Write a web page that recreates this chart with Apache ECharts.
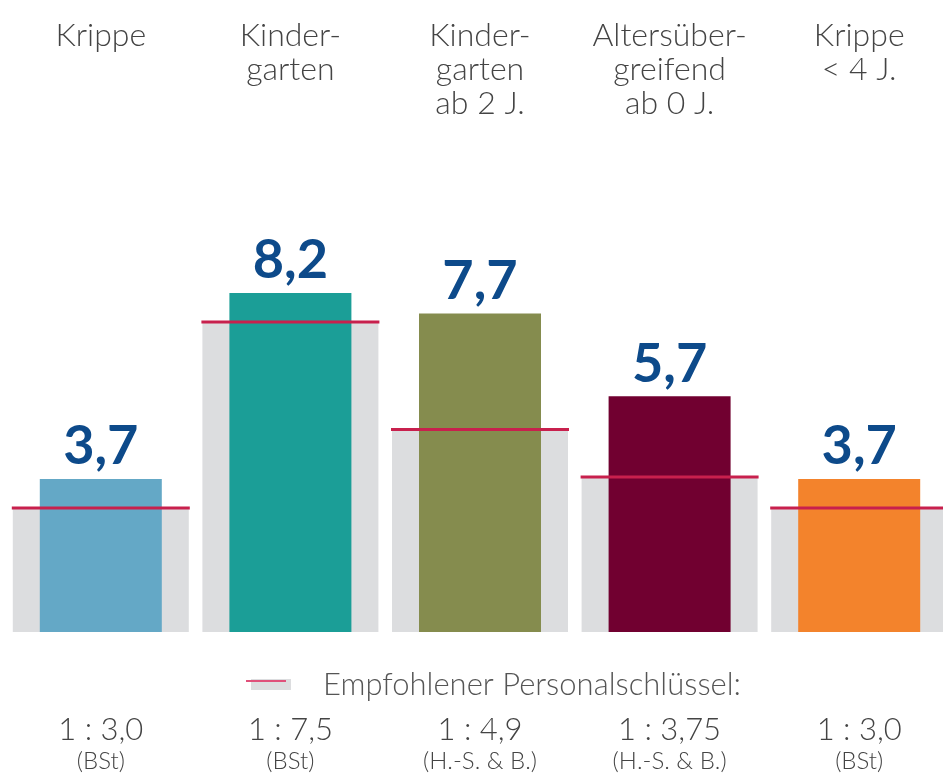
<!DOCTYPE html>
<html>
<head>
<meta charset="utf-8">
<script src="https://cdn.jsdelivr.net/npm/echarts@6/dist/echarts.min.js"></script>
<style>
  html, body { margin: 0; padding: 0; background: #fff; }
  #chart { width: 943px; height: 777px; }
</style>
</head>
<body>
<div id="chart"></div>
<script>
// Kategorien oben
const categories = ['Krippe', 'Kinder-\ngarten', 'Kinder-\ngarten\nab 2 J.', 'Altersüber-\ngreifend\nab 0 J.', 'Krippe\n< 4 J.']
// tatsächlicher Personalschlüssel
const actualValues = [3.7, 8.2, 7.7, 5.7, 3.7]
// empfohlener Personalschlüssel
const recommendedValues = [3.0, 7.5, 4.9, 3.75, 3.0]
const ratioLabels = ['1 : 3,0', '1 : 7,5', '1 : 4,9', '1 : 3,75', '1 : 3,0']
const sourceLabels = ['(BSt)', '(BSt)', '(H.-S. & B.)', '(H.-S. & B.)', '(BSt)']
const barColors = ['#64a8c6', '#1b9e97', '#858c4e', '#710030', '#f3832c']

const font = 'Lato, "Open Sans", sans-serif'
const chart = echarts.init(document.getElementById('chart'))

chart.setOption({
  animation: false,
  grid: {
    left: 6,
    width: 948,
    top: 218.5,
    bottom: 145,
    containLabel: false,
    outerBoundsMode: 'none'
  },
  legend: {
    data: ['Empfohlener Personalschlüssel:'],
    left: 246,
    top: 664,
    icon: 'rect',
    itemWidth: 40,
    itemHeight: 11,
    textStyle: {
      fontFamily: font,
      fontWeight: 300,
      fontSize: 31,
      color: '#555',
      padding: [0, 0, 0, 27]
    }
  },
  graphic: [{
    type: 'rect',
    shape: { x: 246, y: 680, width: 40, height: 2 },
    style: { fill: '#e0507a' },
    z: 100
  }],
  xAxis: [{
    type: 'category',
    position: 'top',
    data: categories,
    axisLine: { show: false },
    axisTick: { show: false },
    axisLabel: {
      margin: 200,
      verticalAlign: 'top',
      fontFamily: font,
      fontWeight: 300,
      fontSize: 32,
      lineHeight: 34,
      color: '#444',
      interval: 0
    }
  }, {
    type: 'category',
    position: 'bottom',
    data: ratioLabels,
    axisLine: { show: false },
    axisTick: { show: false },
    axisLabel: {
      margin: 81,
      interval: 0,
      verticalAlign: 'top',
      formatter: (v, i) => '{r|' + v + '}\n{s|' + sourceLabels[i] + '}',
      rich: {
        r: { fontFamily: font, fontWeight: 300, fontSize: 31, lineHeight: 34, color: '#444' },
        s: { fontFamily: font, fontWeight: 300, fontSize: 24, lineHeight: 28, color: '#444' }
      }
    }
  }],
  yAxis: {
    type: 'value',
    min: 0,
    max: 10,
    show: false
  },
  series: [
    {
      name: 'Empfohlener Personalschlüssel:',
      type: 'bar',
      xAxisIndex: 0,
      data: recommendedValues,
      barWidth: 176,
      itemStyle: { color: '#dcdddf' },
      z: 1
    },
    {
      name: 'Personalschlüssel',
      type: 'bar',
      xAxisIndex: 1,
      data: actualValues.map((v, i) => ({ value: v, itemStyle: { color: barColors[i] } })),
      barWidth: 122,
      z: 2,
      label: {
        show: true,
        position: 'top',
        distance: 4,
        formatter: p => p.value.toFixed(1).replace('.', ','),
        fontFamily: font,
        fontWeight: 'bold',
        fontSize: 54,
        lineHeight: 56,
        color: '#0d4a8a'
      }
    },
    {
      name: 'Linie',
      type: 'pictorialBar',
      xAxisIndex: 0,
      data: recommendedValues,
      symbol: 'rect',
      symbolSize: [178, 3],
      symbolPosition: 'end',
      symbolOffset: [0, '-50%'],
      itemStyle: { color: '#c8204d' },
      z: 5
    }
  ]
})
</script>
</body>
</html>
